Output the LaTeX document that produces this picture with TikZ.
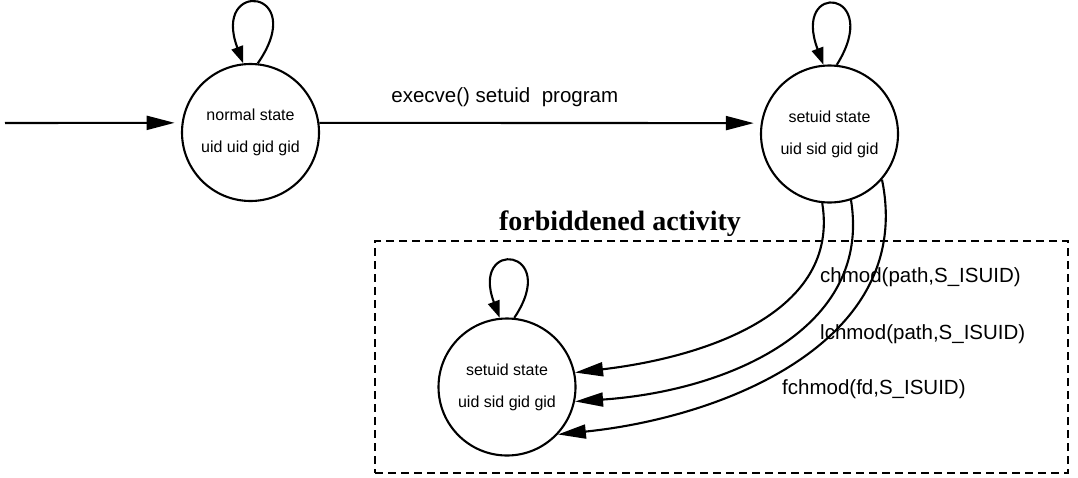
\documentclass[tikz,border=0pt]{standalone}
\usepackage{fontspec}
\setmainfont{Liberation Sans}
\newfontfamily\titlefont{Liberation Serif}
\usetikzlibrary{arrows.meta}
\begin{document}
\begin{tikzpicture}[x=1pt,y=-1pt,
  state/.style={circle,draw,line width=2.1pt,minimum size=137pt,inner sep=0pt,
    align=center,font=\fontsize{16}{32}\selectfont},
  arr/.style={line width=2.1pt,-{Triangle[length=28pt,width=14pt]}},
  looparr/.style={line width=2.1pt,-{Triangle[length=17pt,width=12pt]}},
  lbl/.style={font=\fontsize{20.5}{24}\selectfont,inner sep=0pt},
  zone/.style={draw,line width=2pt,dash pattern=on 8pt off 5pt,
    minimum width=693pt,minimum height=232pt,inner sep=0pt},
  zonetitle/.style={font=\titlefont\bfseries\fontsize{28}{32}\selectfont,inner sep=0pt}
]
\useasboundingbox (0,0) rectangle (1078,477);

% region of forbidden transitions
\node[zone] (box) at (721.5,357) {};
\node[zonetitle,anchor=base] (title) at (620,230) {forbiddened activity};

% states
\node[state] (n) at (250.5,132.5) {normal state\\uid uid gid gid};
\node[state] (s) at (829.5,134) {setuid state\\uid sid gid gid};
\node[state] (b) at (507,387) {setuid state\\uid sid gid gid};

% initial transition
\coordinate (start) at (5,123);
\draw[arr,shorten >=7pt] (start) -- (n.172);

% exec of a setuid program
\draw[arr,shorten >=7pt] (n.8) -- node[lbl,pos=0.42,anchor=base,yshift=20pt] (ex)
  {execve() setuid\ \ program} (s.171);

% self loops
\draw[looparr] (n.84) .. controls +(52,-75) and +(-32,-85) .. (n.96);
\draw[looparr] (s.84) .. controls +(47,-75) and +(-32,-85) .. (s.95);
\draw[looparr] (b.84) .. controls +(47,-70) and +(-30,-80) .. (b.96);

% forbidden mode changes
\draw[arr] (s.-96) .. controls (840,312) and (707,357) .. (b.12);
\draw[arr] (s.-72) .. controls (872,329) and (728,391) .. (b.-12);
\draw[arr] (s.-41) .. controls (915,340) and (727,417) .. (b.-43);

\node[lbl,anchor=base west] (l1) at (820,282) {chmod(path,S\_ISUID)};
\node[lbl,anchor=base west] (l2) at (820,339) {lchmod(path,S\_ISUID)};
\node[lbl,anchor=base west] (l3) at (782,394) {fchmod(fd,S\_ISUID)};
\end{tikzpicture}
\end{document}
